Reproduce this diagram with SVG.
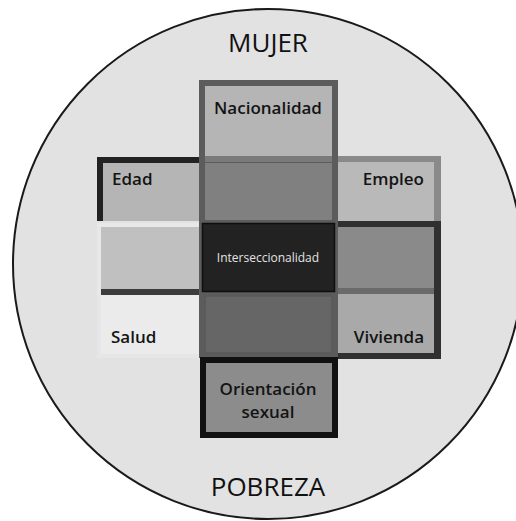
<svg xmlns="http://www.w3.org/2000/svg" width="516" height="521" viewBox="0 0 516 521">
<style>
.lbl{font-family:"Open Sans","Liberation Sans",sans-serif;font-weight:600;font-size:17px;fill:#141414}
.big{font-family:"Open Sans","Liberation Sans",sans-serif;font-weight:400;font-size:26px;fill:#111}
.mid{font-family:"Open Sans","Liberation Sans",sans-serif;font-weight:400;font-size:12px;fill:#e4e4e4}
</style>
<rect width="516" height="521" fill="#fff"/>
<g id="circle">
<circle cx="268" cy="264" r="255" fill="#e2e2e2" stroke="#1a1a1a" stroke-width="2"/>
<text class="big" x="268" y="52" text-anchor="middle">MUJER</text>
<text class="big" x="268" y="496" text-anchor="middle">POBREZA</text>
</g>
<g id="connectors"></g>
<g id="edad">
<rect x="97" y="157" width="103" height="64" fill="#222"/>
<rect x="103" y="163" width="97" height="58" fill="#b5b5b5"/>
<text class="lbl" x="112" y="185">Edad</text>
</g>
<g id="izq-medio">
<rect x="97" y="223" width="103" height="72" fill="#e8e8e8"/>
<rect x="101" y="227" width="99" height="62" fill="#c0c0c0"/>
<rect x="101" y="289" width="99" height="6" fill="#3c3c3c"/>
</g>
<g id="salud">
<rect x="97" y="295" width="103" height="63" fill="#e6e6e6"/>
<rect x="101" y="295" width="99" height="59" fill="#ebebeb"/>
<text class="lbl" x="111" y="343">Salud</text>
</g>
<g id="empleo">
<rect x="335" y="156" width="106" height="65" fill="#8a8a8a"/>
<rect x="338" y="162" width="96" height="59" fill="#b9b9b9"/>
<text class="lbl" x="424" y="185" text-anchor="end">Empleo</text>
</g>
<g id="der-medio">
<rect x="335" y="221" width="106" height="74" fill="#303030"/>
<rect x="338" y="227" width="96" height="61" fill="#8a8a8a"/>
<rect x="338" y="288" width="96" height="7" fill="#6a6a6a"/>
</g>
<g id="vivienda">
<rect x="335" y="294" width="106" height="65" fill="#303030"/>
<rect x="338" y="294" width="96" height="59" fill="#a9a9a9"/>
<text class="lbl" x="424" y="343" text-anchor="end">Vivienda</text>
</g>
<g id="columna">
<rect x="199" y="80" width="139" height="278" fill="#5c5c5c"/>
</g>
<g id="nacionalidad">
<rect x="205" y="86" width="127" height="70" fill="#b5b5b5"/>
<rect x="205" y="156" width="127" height="6" fill="#7a7a7a"/>
<text class="lbl" x="268" y="114" text-anchor="middle">Nacionalidad</text>
</g>
<g id="centro-arriba">
<rect x="205" y="163" width="127" height="57" fill="#808080"/>
</g>
<g id="interseccionalidad">
<rect x="202.5" y="223.5" width="132" height="68" fill="#222" stroke="#0e0e0e" stroke-width="1.5"/>
<text class="mid" x="268" y="262" text-anchor="middle">Interseccionalidad</text>
</g>
<g id="centro-abajo">
<rect x="205" y="296" width="127" height="57" fill="#666" stroke="#595959" stroke-width="1.5"/>
</g>
<g id="orientacion">
<rect x="203" y="360" width="132" height="75" fill="#8c8c8c" stroke="#111" stroke-width="6"/>
<text class="lbl" x="268" y="395" text-anchor="middle">Orientación</text>
<text class="lbl" x="268" y="418" text-anchor="middle">sexual</text>
</g>
</svg>
